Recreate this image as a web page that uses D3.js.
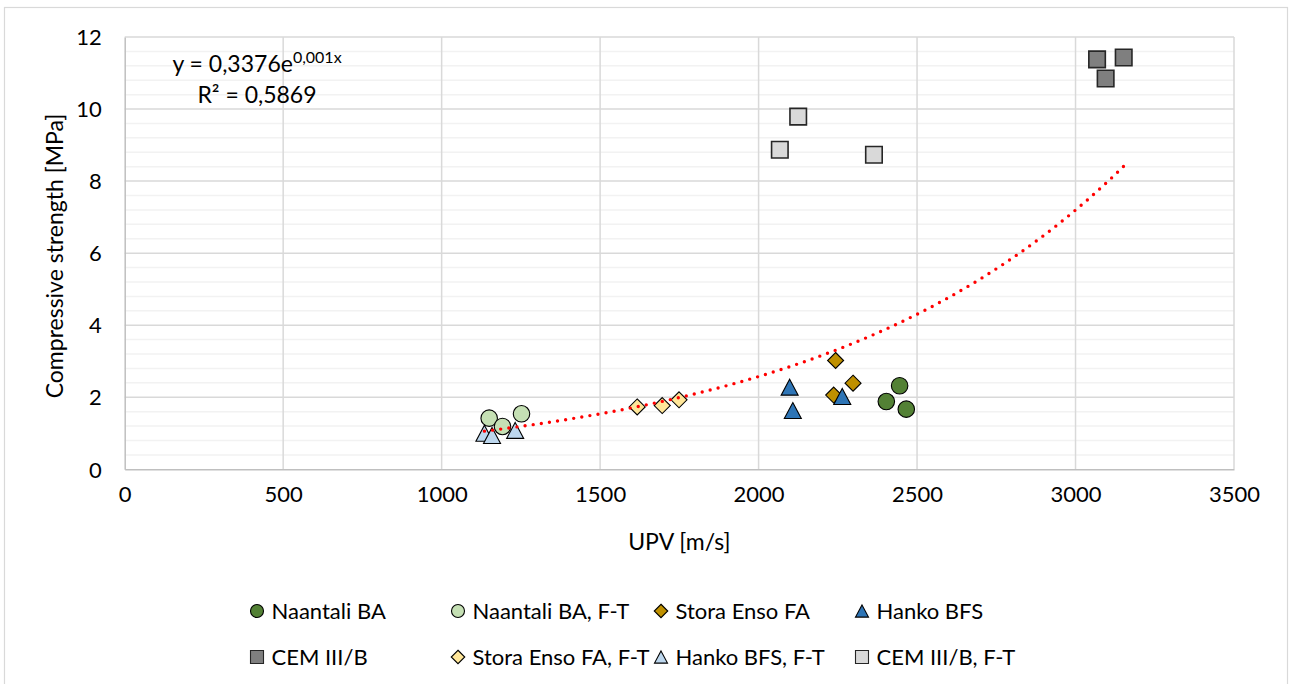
<!DOCTYPE html>
<html>
<head>
<meta charset="utf-8">
<script src="https://cdn.jsdelivr.net/npm/d3@7"></script>
<style>
  html, body { margin: 0; padding: 0; background: #ffffff; }
  svg { display: block; font-family: Lato, "Liberation Sans", sans-serif; }
</style>
</head>
<body>
<svg id="chart" width="1290" height="684"></svg>
<script>
// UPV vs compressive strength, per binder type (with and without freeze-thaw)
const seriesNames = [
  "Naantali BA", "Naantali BA, F-T", "Stora Enso FA", "Hanko BFS",
  "CEM III/B", "Stora Enso FA, F-T", "Hanko BFS, F-T", "CEM III/B, F-T"
];
const naantaliBA_upv   = [2445, 2403, 2466];
const naantaliBA_str   = [2.32, 1.88, 1.67];
const naantaliBAFT_upv = [1150, 1192, 1252];
const naantaliBAFT_str = [1.42, 1.19, 1.54];
const storaFA_upv      = [2243, 2237, 2298];
const storaFA_str      = [3.02, 2.06, 2.39];
const hankoBFS_upv     = [2098, 2108, 2264];
const hankoBFS_str     = [2.28, 1.63, 2.02];
const cem_upv          = [3068, 3152, 3095];
const cem_str          = [11.38, 11.43, 10.85];
const storaFAFT_upv    = [1617, 1696, 1749];
const storaFAFT_str    = [1.73, 1.77, 1.93];
const hankoBFSFT_upv   = [1135, 1159, 1232];
const hankoBFSFT_str   = [1.00, 0.94, 1.08];
const cemFT_upv        = [2125, 2067, 2364];
const cemFT_str        = [9.79, 8.87, 8.73];

const xTicks = [0, 500, 1000, 1500, 2000, 2500, 3000, 3500];
const yTicks = [0, 2, 4, 6, 8, 10, 12];
const equationMain = "y = 0,3376e";
const equationExp = "0,001x";
const rSquaredLabel = "R² = 0,5869";
const xTitle = "UPV [m/s]";
const yTitle = "Compressive strength [MPa]";

// marker shape + colours per series
const styles = [
  { shape: "circle",   fill: "#538135" },
  { shape: "circle",   fill: "#c5e0b4" },
  { shape: "diamond",  fill: "#bf9000" },
  { shape: "triangle", fill: "#2e75b6" },
  { shape: "square",   fill: "#7f7f7f" },
  { shape: "diamond",  fill: "#ffe699" },
  { shape: "triangle", fill: "#bdd7ee" },
  { shape: "square",   fill: "#d9d9d9" }
];

const seriesData = [
  [naantaliBA_upv, naantaliBA_str],
  [naantaliBAFT_upv, naantaliBAFT_str],
  [storaFA_upv, storaFA_str],
  [hankoBFS_upv, hankoBFS_str],
  [cem_upv, cem_str],
  [storaFAFT_upv, storaFAFT_str],
  [hankoBFSFT_upv, hankoBFSFT_str],
  [cemFT_upv, cemFT_str]
].map(([xs, ys], i) => ({
  name: seriesNames[i],
  style: styles[i],
  points: xs.map((x, j) => ({ x, y: ys[j] }))
}));

const svg = d3.select("#chart");
const plot = { left: 124.7, right: 1234, top: 37, bottom: 469.3 };
const FONT = 22;
const TITLE_FONT = 23;

const x = d3.scaleLinear().domain([0, 3500]).range([plot.left, plot.right]);
const y = d3.scaleLinear().domain([0, 12]).range([plot.bottom, plot.top]);

// outer chart frame
svg.append("rect")
  .attr("x", 4.5).attr("y", 7.5).attr("width", 1283).attr("height", 700)
  .attr("fill", "#fff").attr("stroke", "#d9d9d9").attr("stroke-width", 1.2);

// minor horizontal gridlines (every 0.4)
const minorY = d3.range(0.4, 12, 0.4).filter(v => Math.abs(v / 2 - Math.round(v / 2)) > 1e-6);
svg.append("g").selectAll("line").data(minorY).join("line")
  .attr("x1", plot.left).attr("x2", plot.right)
  .attr("y1", d => y(d)).attr("y2", d => y(d))
  .attr("stroke", "#f2f2f2").attr("stroke-width", 1.5);

// major gridlines
svg.append("g").selectAll("line").data(yTicks.filter(v => v > 0)).join("line")
  .attr("x1", plot.left).attr("x2", plot.right)
  .attr("y1", d => y(d)).attr("y2", d => y(d))
  .attr("stroke", "#d9d9d9").attr("stroke-width", 1.5);
svg.append("g").selectAll("line").data(xTicks.filter(v => v > 0)).join("line")
  .attr("x1", d => x(d)).attr("x2", d => x(d))
  .attr("y1", plot.top).attr("y2", plot.bottom)
  .attr("stroke", "#d9d9d9").attr("stroke-width", 1.5);

// axes
const xAxis = svg.append("g").attr("transform", `translate(0,${plot.bottom})`)
  .call(d3.axisBottom(x).tickValues(xTicks).tickSize(0).tickPadding(22).tickFormat(d3.format("d")));
const yAxis = svg.append("g").attr("transform", `translate(${plot.left},0)`)
  .call(d3.axisLeft(y).tickValues(yTicks).tickSize(0).tickPadding(23).tickFormat(d3.format("d")));
[xAxis, yAxis].forEach(g => {
  g.select(".domain").attr("stroke", "#bfbfbf").attr("stroke-width", 1.5);
  g.selectAll("text").attr("font-family", "Lato, 'Liberation Sans', sans-serif")
    .attr("font-size", FONT).attr("fill", "#000");
});
xAxis.selectAll("text").attr("dy", "0.5em");
yAxis.selectAll("text").attr("dy", "0.35em");

// axis titles
svg.append("text")
  .attr("x", (plot.left + plot.right) / 2).attr("y", 541.5).attr("dy", "0.35em")
  .attr("text-anchor", "middle").attr("font-size", TITLE_FONT).text(xTitle);
svg.append("text")
  .attr("transform", `translate(55,256) rotate(-90)`).attr("dy", "0.35em")
  .attr("text-anchor", "middle").attr("font-size", TITLE_FONT).text(yTitle);

// marker paths, centred on their bounding box
function circlePath(r) {
  const p = d3.path(); p.arc(0, 0, r, 0, 2 * Math.PI); p.closePath(); return p.toString();
}
function markerPath(shape, s) {
  const h = s / 2;
  if (shape === "circle") return circlePath(h);
  if (shape === "square") return `M${-h},${-h}H${h}V${h}H${-h}Z`;
  if (shape === "diamond") return `M0,${-h}L${h},0L0,${h}L${-h},0Z`;
  if (shape === "triangle") { const hh = h * 0.94; return `M0,${-hh}L${h},${hh}L${-h},${hh}Z`; }
}
const markerSize = { circle: 16.5, square: 16.5, diamond: 16, triangle: 17 };

// data points, in series order
const pts = svg.append("g");
seriesData.forEach(s => {
  pts.append("g").selectAll("path").data(s.points).join("path")
    .attr("transform", d => `translate(${x(d.x)},${y(d.y)})`)
    .attr("d", markerPath(s.style.shape, markerSize[s.style.shape]))
    .attr("fill", s.style.fill)
    .attr("stroke", s.style.shape === "square" ? "#262626" : "#000")
    .attr("stroke-width", s.style.shape === "square" ? 1.6 : 1.1);
});

// exponential trendline fitted over all points (least squares on ln y)
const all = seriesData.flatMap(s => s.points);
const mx = d3.mean(all, d => d.x);
const my = d3.mean(all, d => Math.log(d.y));
const b = d3.sum(all, d => (d.x - mx) * (Math.log(d.y) - my)) / d3.sum(all, d => (d.x - mx) ** 2);
const a = Math.exp(my - b * mx);
const [xmin, xmax] = d3.extent(all, d => d.x);
const trend = d3.range(0, 201).map(i => xmin + (xmax - xmin) * i / 200);
svg.append("path")
  .datum(trend)
  .attr("d", d3.line().x(v => x(v)).y(v => y(a * Math.exp(b * v))))
  .attr("fill", "none").attr("stroke", "#ff0000").attr("stroke-width", 3.4)
  .attr("stroke-linecap", "round").attr("stroke-dasharray", "0 8.2");

// trendline equation
const eq = svg.append("text").attr("x", 257).attr("y", 64).attr("dy", "0.35em")
  .attr("text-anchor", "middle").attr("font-size", 23);
eq.append("tspan").text(equationMain);
eq.append("tspan").attr("font-size", 16).attr("dy", "-0.55em").text(equationExp);
svg.append("text").attr("x", 257).attr("y", 95).attr("dy", "0.35em")
  .attr("text-anchor", "middle").attr("font-size", 23).text(rSquaredLabel);

// legend, 4 columns x 2 rows
const legendCols = [257, 458, 661, 862];
const legendRows = [611, 657];
const legend = svg.append("g");
seriesData.forEach((s, i) => {
  const cx = legendCols[i % 4], cy = legendRows[Math.floor(i / 4)];
  legend.append("path")
    .attr("transform", `translate(${cx},${cy})`)
    .attr("d", markerPath(s.style.shape, s.style.shape === "diamond" ? 13.5 : 13))
    .attr("fill", s.style.fill)
    .attr("stroke", s.style.shape === "square" ? "#262626" : "#000")
    .attr("stroke-width", 1.1);
  legend.append("text")
    .attr("x", cx + 14.5).attr("y", cy).attr("dy", "0.35em")
    .attr("font-size", FONT).text(s.name);
});
</script>
</body>
</html>
